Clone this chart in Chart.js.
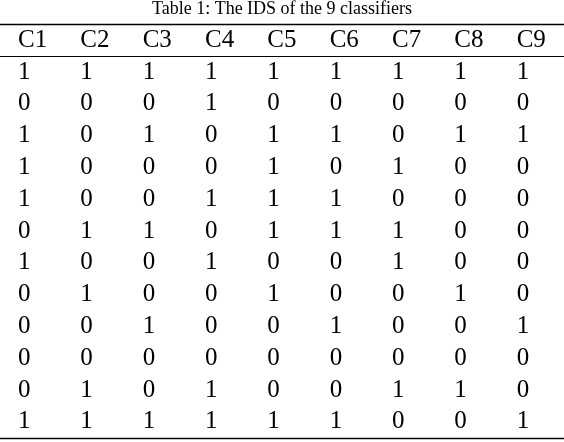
<!DOCTYPE html>
<html><head><meta charset="utf-8">
<script src="https://cdn.jsdelivr.net/npm/chart.js@4"></script>
<style>html,body{margin:0;padding:0;background:#fff}#w{width:564px;height:442px}</style>
</head><body><div id="w"><canvas id="c"></canvas></div>
<script>
const title = "Table 1: The IDS of the 9 classifiers";
const columns = ["C1","C2","C3","C4","C5","C6","C7","C8","C9"];
const rows = [
[1,1,1,1,1,1,1,1,1],
[0,0,0,1,0,0,0,0,0],
[1,0,1,0,1,1,0,1,1],
[1,0,0,0,1,0,1,0,0],
[1,0,0,1,1,1,0,0,0],
[0,1,1,0,1,1,1,0,0],
[1,0,0,1,0,0,1,0,0],
[0,1,0,0,1,0,0,1,0],
[0,0,1,0,0,1,0,0,1],
[0,0,0,0,0,0,0,0,0],
[0,1,0,1,0,0,1,1,0],
[1,1,1,1,1,1,0,0,1]
];
const pts = [];
rows.forEach((r,ri)=>r.forEach((v,ci)=>pts.push({x:ci,y:ri,v:v})));
const tablePlugin = {
  id:'tbl',
  afterDatasetsDraw(chart){
    const ctx=chart.ctx, xs=chart.scales.x, ys=chart.scales.y;
    ctx.save();
    ctx.fillStyle='#000';ctx.strokeStyle='#000';
    ctx.font='18px "Liberation Serif"';ctx.textAlign='center';ctx.textBaseline='middle';
    ctx.fillText(title,282,ys.getPixelForValue(-1.98));
    ctx.font='25px "Liberation Serif"';ctx.textAlign='left';
    columns.forEach((c,i)=>ctx.fillText(c,xs.getPixelForValue(i),ys.getPixelForValue(-1)));
    pts.forEach(p=>ctx.fillText(String(p.v),xs.getPixelForValue(p.x),ys.getPixelForValue(p.y)));
    const line=(y,w)=>{ctx.lineWidth=w;ctx.beginPath();const py=Math.round(ys.getPixelForValue(y))+0.5;ctx.moveTo(0,py);ctx.lineTo(564,py);ctx.stroke();};
    line(-1.51,1.5);line(-0.51,1);line(11.51,1.5);
    ctx.restore();
  }
};
new Chart(document.getElementById('c'),{
  type:'scatter',
  data:{datasets:[{data:pts,pointRadius:0}]},
  options:{responsive:true,maintainAspectRatio:false,animation:false,
    layout:{padding:{left:18,right:0,top:0,bottom:0}},
    plugins:{legend:{display:false},tooltip:{enabled:false}},
    scales:{
      x:{type:'linear',min:0,max:8.76,display:false},
      y:{type:'linear',reverse:true,min:-2.264,max:11.635,display:false}
    }},
  plugins:[tablePlugin]
});
</script></body></html>
